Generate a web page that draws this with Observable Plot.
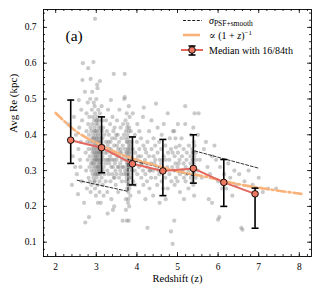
<!DOCTYPE html>
<html><head><meta charset="utf-8">
<script src="https://cdn.jsdelivr.net/npm/d3@7"></script>
<script src="https://cdn.jsdelivr.net/npm/@observablehq/plot@0.6"></script>
<style>body{margin:0;background:#fff}</style>
</head><body><div id="chart"></div>
<script>
// Individual galaxies (redshift, Re in kpc)
const scatterPts = [
[2.30,0.43],[2.35,0.38],[2.40,0.26],[2.42,0.34],[2.45,0.45],[2.48,0.31],[2.50,0.40],[2.52,0.29],[2.55,0.234],[2.56,0.36],[2.57,0.497],[2.58,0.42],[2.60,0.33],[2.62,0.38],[2.63,0.47],[2.64,0.27],[2.65,0.44],[2.66,0.553],[2.67,0.60],[2.61,0.31],
[2.70,0.21],[2.72,0.52],[2.73,0.155],[2.74,0.35],[2.75,0.30],[2.76,0.41],[2.76,0.46],[2.77,0.25],[2.78,0.38],[2.79,0.33],[2.79,0.49],[2.80,0.586],[2.81,0.28],[2.80,0.43],[2.81,0.36],[2.82,0.17],[2.82,0.40],[2.83,0.31],[2.83,0.45],[2.84,0.34],[2.84,0.27],[2.85,0.38],[2.86,0.42],[2.85,0.50],[2.86,0.556],[2.87,0.32],[2.86,0.24],
[2.88,0.30],[2.89,0.36],[2.88,0.41],[2.89,0.47],[2.88,0.26],
[2.90,0.33],[2.91,0.38],[2.90,0.43],[2.91,0.29],[2.90,0.52],[2.91,0.35],
[2.92,0.31],[2.93,0.37],[2.92,0.40],[2.92,0.45],[2.93,0.28],[2.93,0.34],
[2.93,0.603],[2.94,0.49],[2.94,0.36],
[2.95,0.30],[2.96,0.33],[2.95,0.39],[2.96,0.42],[2.95,0.44],[2.96,0.27],[2.95,0.35],[2.96,0.48],
[2.97,0.724],[2.98,0.31],[2.97,0.37],[2.98,0.41],[2.97,0.25],[2.98,0.34],[2.97,0.46],
[2.99,0.29],[3.00,0.32],[2.99,0.36],[3.00,0.39],[2.99,0.43],[3.00,0.50],[2.99,0.23],[3.00,0.38],
[3.01,0.30],[3.02,0.35],[3.01,0.41],[3.02,0.45],[3.01,0.28],[3.02,0.33],[3.01,0.37],[3.02,0.54],
[3.03,0.53],[3.04,0.31],[3.03,0.36],[3.04,0.40],[3.03,0.26],[3.04,0.34],[3.03,0.44],[3.04,0.21],
[3.05,0.29],[3.06,0.33],[3.05,0.38],[3.06,0.42],[3.05,0.47],[3.06,0.35],[3.05,0.30],
[3.07,0.32],[3.08,0.36],[3.07,0.39],[3.08,0.27],[3.07,0.44],[3.08,0.24],
[3.09,0.55],[3.10,0.31],[3.09,0.34],[3.10,0.40],[3.09,0.37],[3.10,0.29],[3.09,0.46],
[3.11,0.21],[3.12,0.33],[3.11,0.38],[3.12,0.30],[3.11,0.42],[3.12,0.35],
[3.13,0.28],[3.14,0.36],[3.13,0.32],[3.14,0.41],[3.13,0.48],
[3.15,0.34],[3.16,0.30],[3.15,0.39],[3.16,0.26],[3.15,0.44],
[3.18,0.31],[3.17,0.37],[3.18,0.33],[3.17,0.42],[3.18,0.23],
[3.20,0.29],[3.21,0.35],[3.20,0.40],
[2.94,0.32],[2.96,0.38],[2.98,0.35],[3.00,0.34],[3.02,0.39],[3.04,0.37],[3.06,0.31],[3.08,0.33],[3.10,0.36],[3.12,0.39],
[2.95,0.41],[2.97,0.29],[2.99,0.40],[3.01,0.33],[3.03,0.29],[3.05,0.35],[3.07,0.41],[3.09,0.32],[3.11,0.35],[3.13,0.38],
[2.93,0.39],[2.95,0.27],[2.97,0.33],[3.00,0.44],[3.02,0.31],[3.04,0.43],[3.06,0.38],[3.08,0.30],[2.91,0.32],[2.89,0.39],
[3.23,0.32],[3.24,0.38],[3.23,0.27],[3.24,0.44],
[3.26,0.35],[3.27,0.30],[3.26,0.41],[3.27,0.24],
[3.28,0.18],[3.29,0.33],[3.28,0.37],[3.29,0.47],
[3.31,0.29],[3.32,0.36],[3.31,0.40],[3.32,0.32],
[3.34,0.34],[3.35,0.27],[3.34,0.43],[3.35,0.38],
[3.36,0.497],[3.37,0.31],[3.36,0.36],[3.37,0.22],
[3.39,0.33],[3.40,0.29],[3.39,0.39],[3.40,0.45],
[3.41,0.19],[3.42,0.35],[3.41,0.31],[3.42,0.41],
[3.43,0.57],[3.44,0.37],[3.43,0.28],[3.44,0.33],
[3.44,0.20],[3.45,0.42],
[3.47,0.30],[3.48,0.35],[3.47,0.39],[3.48,0.26],
[3.50,0.33],[3.51,0.37],[3.50,0.29],[3.51,0.44],
[3.53,0.31],[3.54,0.36],[3.53,0.40],[3.54,0.24],
[3.56,0.28],[3.57,0.34],[3.56,0.38],[3.57,0.47],
[3.59,0.32],[3.60,0.36],[3.59,0.30],[3.60,0.42],
[3.62,0.35],[3.63,0.27],[3.62,0.39],[3.63,0.33],
[3.65,0.16],[3.66,0.31],[3.65,0.37],[3.66,0.43],
[3.68,0.34],[3.69,0.29],[3.68,0.40],[3.69,0.50],
[3.33,0.33],[3.38,0.35],[3.46,0.32],[3.52,0.34],[3.58,0.35],[3.64,0.31],[3.30,0.38],[3.49,0.40],[3.55,0.31],[3.61,0.29],[3.25,0.33],[3.45,0.28],
[3.70,0.57],[3.70,0.505],[3.71,0.30],[3.70,0.36],
[3.72,0.33],[3.72,0.39],[3.73,0.27],[3.72,0.44],[3.73,0.22],
[3.73,0.19],[3.74,0.31],[3.74,0.35],[3.73,0.41],
[3.75,0.28],[3.76,0.34],[3.75,0.38],[3.76,0.30],[3.75,0.46],[3.76,0.25],[3.75,0.16],
[3.77,0.32],[3.78,0.36],[3.77,0.40],[3.78,0.29],[3.77,0.43],[3.78,0.21],
[3.79,0.27],[3.79,0.33],[3.80,0.37],[3.79,0.31],[3.80,0.48],[3.79,0.24],
[3.80,0.16],[3.81,0.35],[3.81,0.30],[3.80,0.39],[3.81,0.42],[3.81,0.20],
[3.82,0.29],[3.83,0.34],[3.82,0.38],[3.83,0.26],[3.82,0.45],
[3.84,0.31],[3.85,0.36],[3.84,0.28],[3.85,0.41],[3.84,0.23],
[3.87,0.33],[3.88,0.30],[3.87,0.38],
[3.90,0.46],[3.91,0.32],[3.90,0.36],[3.91,0.27],
[3.76,0.32],[3.78,0.34],[3.80,0.33],[3.82,0.31],[3.77,0.38],[3.79,0.36],[3.81,0.28],[3.83,0.37],[3.75,0.35],[3.74,0.29],[3.78,0.26],[3.80,0.41],[3.82,0.35],[3.76,0.42],[3.84,0.33],[3.79,0.22],[3.81,0.25],
[3.95,0.30],[3.96,0.35],[3.95,0.40],[3.96,0.26],
[4.00,0.33],[4.01,0.29],[4.00,0.38],[4.01,0.43],
[4.05,0.31],[4.06,0.36],[4.05,0.24],[4.06,0.41],
[4.10,0.34],[4.11,0.28],[4.10,0.39],[4.11,0.32],
[4.15,0.30],[4.16,0.37],[4.15,0.45],[4.16,0.26],
[4.17,0.476],
[4.20,0.33],[4.21,0.29],[4.20,0.36],[4.21,0.22],
[4.26,0.14],[4.25,0.31],[4.26,0.38],[4.25,0.27],
[4.30,0.34],[4.31,0.30],[4.30,0.41],[4.31,0.25],
[4.35,0.32],[4.36,0.36],[4.35,0.28],[4.36,0.44],
[4.40,0.30],[4.41,0.34],[4.40,0.23],[4.41,0.39],
[4.47,0.487],[4.45,0.33],[4.46,0.28],[4.45,0.37],
[4.50,0.31],[4.51,0.35],[4.50,0.26],[4.51,0.42],
[4.55,0.29],[4.56,0.33],[4.55,0.38],[4.56,0.21],
[4.60,0.32],[4.61,0.27],[4.60,0.36],[4.61,0.40],
[4.65,0.30],[4.66,0.34],[4.65,0.25],[4.66,0.43],
[4.70,0.28],[4.71,0.33],[4.70,0.37],[4.71,0.22],
[4.76,0.46],[4.76,0.25],[4.75,0.31],[4.77,0.35],
[4.80,0.29],[4.81,0.39],[4.80,0.33],
[4.84,0.13],[4.85,0.27],[4.84,0.36],
[4.88,0.095],[4.87,0.31],[4.88,0.35],[4.89,0.41],
[4.03,0.34],[4.13,0.32],[4.23,0.35],[4.33,0.30],[4.43,0.32],[4.53,0.30],[4.63,0.33],
[4.92,0.41],[4.92,0.30],[4.92,0.16],[4.93,0.34],[4.93,0.26],
[4.95,0.39],[4.96,0.365],[4.95,0.32],[4.96,0.28],
[5.00,0.31],[5.01,0.35],[5.00,0.27],[5.01,0.43],
[5.05,0.33],[5.06,0.29],[5.05,0.37],[5.06,0.24],
[5.10,0.30],[5.11,0.34],[5.10,0.39],
[5.15,0.32],[5.16,0.28],[5.15,0.36],[5.16,0.22],
[5.19,0.48],[5.19,0.43],[5.20,0.27],[5.20,0.31],
[5.22,0.33],[5.23,0.35],[5.22,0.29],
[5.27,0.30],[5.28,0.37],[5.27,0.25],
[5.32,0.32],[5.33,0.28],[5.32,0.34],[5.33,0.40],
[5.36,0.29],[5.37,0.33],[5.36,0.36],[5.37,0.27],[5.36,0.31],
[5.39,0.30],[5.39,0.35],[5.40,0.38],[5.39,0.26],[5.40,0.32],[5.39,0.42],
[5.41,0.23],[5.41,0.34],[5.42,0.29],
[5.42,0.46],[5.43,0.31],[5.42,0.37],
[5.45,0.28],[5.46,0.33],[5.45,0.35],
[5.50,0.40],[5.52,0.46],[5.50,0.30],
[5.38,0.33],[5.40,0.29],[5.37,0.35],[5.03,0.32],[5.13,0.30],
[5.55,0.33],[5.60,0.28],[5.65,0.36],[5.70,0.38],[5.74,0.31],[5.77,0.22],[5.80,0.29],[5.85,0.34],[5.91,0.37],[5.95,0.33],[6.00,0.27],[6.03,0.17],[6.05,0.31],[6.10,0.25],[6.15,0.29],[6.20,0.25],[6.25,0.32],[6.30,0.28],[6.35,0.23],[6.40,0.30],[6.45,0.26],[6.52,0.29],[6.57,0.14],[6.60,0.135],[6.65,0.27],[6.75,0.30],[6.85,0.26],[7.00,0.28],[7.10,0.24],[7.23,0.25],[7.43,0.25],[6.00,0.163],[5.85,0.21]
];

// Binned medians with 16th / 84th percentiles
const medZ  = [2.37, 3.13, 3.89, 4.64, 5.39, 6.14, 6.91];
const medRe = [0.385, 0.364, 0.319, 0.299, 0.306, 0.267, 0.235];
const p16   = [0.320, 0.294, 0.260, 0.230, 0.265, 0.200, 0.139];
const p84   = [0.497, 0.450, 0.394, 0.387, 0.400, 0.331, 0.251];

// sigma PSF+smooth (dashed step-like line)
const sigmaZ  = [2.53, 3.78, 3.78, 5.39, 5.39, 6.99];
const sigmaRe = [0.273, 0.242, 0.331, 0.286, 0.356, 0.307];

// proportional to (1+z)^-1 curve
const fitZ  = [2.0, 2.5, 3.1, 3.5, 4.0, 4.6, 5.0, 5.6, 6.0, 6.5, 7.3, 8.05];
const fitRe = [0.461, 0.410, 0.372, 0.350, 0.330, 0.310, 0.298, 0.285, 0.275, 0.262, 0.247, 0.235];

const xMajor = [2, 3, 4, 5, 6, 7, 8];
const yMajor = [0.1, 0.2, 0.3, 0.4, 0.5, 0.6, 0.7];
const xMinor = d3.range(9, 42).map(i => i / 5);
const yMinor = d3.range(3, 38).map(i => i / 50);

const W = 319, H = 294, mL = 43, mR = 8, mT = 9, mB = 38;
const pw = W - mL - mR, ph = H - mT - mB;
const FONT = "'Liberation Serif', 'DejaVu Serif', serif";

const medians = medZ.map((z, i) => ({z, re: medRe[i], lo: p16[i], hi: p84[i]}));
const sigma = sigmaZ.map((z, i) => ({z, re: sigmaRe[i]}));
const fit = fitZ.map((z, i) => ({z, re: fitRe[i]}));

const capSymbol = {draw(ctx, size) { const r = Math.sqrt(size / Math.PI); ctx.moveTo(-r, 0); ctx.lineTo(r, 0); }};

const RED = "#e4675f", MARK = "#ec7862", ORANGE = "#f9b27a";

const tk = {stroke: "black", strokeWidth: 0.8};
const chart = Plot.plot({
  width: W, height: H, marginLeft: mL, marginRight: mR, marginTop: mT, marginBottom: mB,
  x: {domain: [1.7, 8.3]},
  y: {domain: [0.06, 0.75]},
  style: {fontFamily: FONT, fontSize: "9.5px", background: "white", color: "black"},
  marks: [
    Plot.dot(scatterPts, {x: d => d[0], y: d => d[1], r: 2.1, fill: "#7a7a7a", fillOpacity: 0.4}),
    Plot.line(sigma, {x: "z", y: "re", stroke: "black", strokeWidth: 0.8, strokeDasharray: "3,1.8"}),
    Plot.line(fit, {x: "z", y: "re", stroke: ORANGE, strokeWidth: 2.6, strokeDasharray: "9,3,2,3", curve: "monotone-x"}),
    Plot.line(medians, {x: "z", y: "re", stroke: RED, strokeWidth: 2}),
    Plot.ruleX(medians, {x: "z", y1: "lo", y2: "hi", stroke: "black", strokeWidth: 1.6}),
    Plot.dot(medians, {x: "z", y: "lo", symbol: capSymbol, r: 3.5, fill: "none", stroke: "black", strokeWidth: 1.6}),
    Plot.dot(medians, {x: "z", y: "hi", symbol: capSymbol, r: 3.5, fill: "none", stroke: "black", strokeWidth: 1.6}),
    Plot.dot(medians, {x: "z", y: "re", r: 3.3, fill: MARK, stroke: "black", strokeWidth: 0.9}),
    Plot.frame({stroke: "black", strokeWidth: 0.9}),
    // inward ticks on all four sides
    Plot.tickY(yMajor, {y: d => d, insetRight: pw - 4, ...tk}),
    Plot.tickY(yMajor, {y: d => d, insetLeft: pw - 4, ...tk}),
    Plot.tickY(yMinor, {y: d => d, insetRight: pw - 2, ...tk}),
    Plot.tickY(yMinor, {y: d => d, insetLeft: pw - 2, ...tk}),
    Plot.tickX(xMajor, {x: d => d, insetTop: ph - 4, ...tk}),
    Plot.tickX(xMajor, {x: d => d, insetBottom: ph - 4, ...tk}),
    Plot.tickX(xMinor, {x: d => d, insetTop: ph - 2, ...tk}),
    Plot.tickX(xMinor, {x: d => d, insetBottom: ph - 2, ...tk}),
    Plot.axisX({ticks: xMajor, tickSize: 0, tickPadding: 7, tickFormat: "d", label: null}),
    Plot.axisY({ticks: yMajor, tickSize: 0, tickPadding: 7, tickFormat: ".1f", label: null}),
    Plot.text(["Redshift (z)"], {text: d => d, frameAnchor: "bottom", dy: 25.5, fontSize: 10.5}),
    Plot.text(["Avg Re (kpc)"], {text: d => d, frameAnchor: "left", dx: -30, rotate: -90, fontSize: 11}),
    Plot.text(["(a)"], {text: d => d, frameAnchor: "top-left", dx: 22, dy: 20, fontSize: 15.5})
  ]
});
document.getElementById("chart").appendChild(chart);

// Legend (upper right, inside the axes)
const svg = d3.select(chart);
const lg = svg.append("g").attr("font-family", FONT).attr("fill", "black").attr("text-anchor", "start");
lg.append("line").attr("x1", 183).attr("x2", 202).attr("y1", 20.5).attr("y2", 20.5)
  .attr("stroke", "black").attr("stroke-width", 0.9).attr("stroke-dasharray", "3,1.6");
const t1 = lg.append("text").attr("x", 209).attr("y", 24).attr("font-size", 10);
t1.append("tspan").attr("font-style", "italic").text("σ");
t1.append("tspan").attr("font-size", 7.5).attr("dy", 2).text("PSF+smooth");

lg.append("line").attr("x1", 183).attr("x2", 200).attr("y1", 35).attr("y2", 35)
  .attr("stroke", ORANGE).attr("stroke-width", 2.6);
const t2 = lg.append("text").attr("x", 209).attr("y", 38.5).attr("font-size", 10);
t2.append("tspan").text("∝ (1 + ");
t2.append("tspan").attr("font-style", "italic").text("z");
t2.append("tspan").text(")");
t2.append("tspan").attr("font-size", 7).attr("dy", -4).text("−1");

lg.append("line").attr("x1", 181).attr("x2", 203).attr("y1", 50).attr("y2", 50)
  .attr("stroke", RED).attr("stroke-width", 2);
lg.append("line").attr("x1", 192).attr("x2", 192).attr("y1", 46).attr("y2", 55)
  .attr("stroke", "black").attr("stroke-width", 1.6);
[46, 55].forEach(y => lg.append("line").attr("x1", 188.5).attr("x2", 195.5).attr("y1", y).attr("y2", y)
  .attr("stroke", "black").attr("stroke-width", 1.6));
lg.append("circle").attr("cx", 192).attr("cy", 50).attr("r", 3.3).attr("fill", MARK)
  .attr("stroke", "black").attr("stroke-width", 0.9);
lg.append("text").attr("x", 209).attr("y", 53.5).attr("font-size", 10).text("Median with 16/84th");
</script>
</body></html>
